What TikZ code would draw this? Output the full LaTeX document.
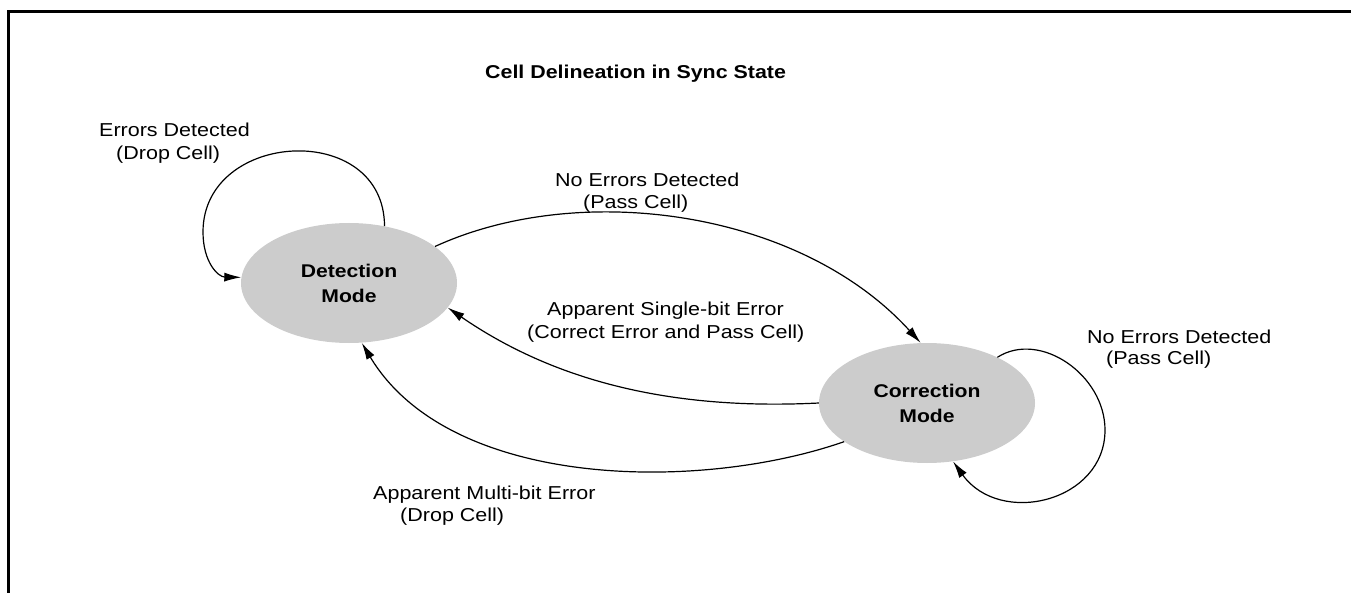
\documentclass[tikz,border=0pt]{standalone}
\usepackage{fontspec}
\setmainfont{Liberation Sans}[FakeStretch=1.15]
\usetikzlibrary{shapes.geometric,arrows.meta}
\definecolor{nodegray}{HTML}{CCCCCC}
\tikzset{
  state/.style={ellipse, fill=nodegray, draw=none, minimum width=216pt, minimum height=120pt,
    inner sep=0pt, align=center, font=\fontsize{18.4}{25}\selectfont\bfseries},
  lbl/.style={anchor=base west, inner sep=0pt, font=\fontsize{18.7}{22}\selectfont},
  ttl/.style={anchor=base west, inner sep=0pt, font=\fontsize{18.6}{22}\selectfont\bfseries},
  conn/.style={line width=1.2pt, -{Latex[length=17pt,width=9pt]}},
  frame/.style={line width=3pt}
}
\begin{document}
\begin{tikzpicture}[x=1pt,y=-1pt]
\useasboundingbox (0,0) rectangle (1351,593);
\draw[frame] (1351,12) -- (8,12) -- (8,593);

\node[ttl] (title) at (485,79) {Cell Delineation in Sync State};

\node[state] (det) at (349,283) {Detection\\Mode};
\node[state] (cor) at (927,403) {Correction\\Mode};

% labels
\node[lbl] (l1a) at (99,137) {Errors Detected};
\node[lbl] (l1b) at (116,160) {(Drop Cell)};
\node[lbl] (l2a) at (555,187) {No Errors Detected};
\node[lbl] (l2b) at (583,209) {(Pass Cell)};
\node[lbl] (l3a) at (547,316) {Apparent Single-bit Error};
\node[lbl] (l3b) at (527,338) {(Correct Error and Pass Cell)};
\node[lbl] (l4a) at (1087,343) {No Errors Detected};
\node[lbl] (l4b) at (1106,364) {(Pass Cell)};
\node[lbl] (l5a) at (373,499) {Apparent Multi-bit Error};
\node[lbl] (l5b) at (400,521) {(Drop Cell)};

% connectors
\draw[conn] (det.58) .. controls (384,120) and (203,130) .. (203,232)
  .. controls (203,262) and (218,277) .. (det.177);
\draw[conn] (det.23) .. controls (580,180) and (800,210) .. (cor.96);
\draw[conn] (cor.180) .. controls (680,410) and (560,385) .. (det.-14);
\draw[conn] (cor.205) .. controls (700,492) and (450,490) .. (det.-78);
\draw[conn] (cor.33) .. controls (1040,330) and (1105,375) .. (1105,430)
  .. controls (1105,502) and (1000,527) .. (cor.-66);
\end{tikzpicture}
\end{document}
